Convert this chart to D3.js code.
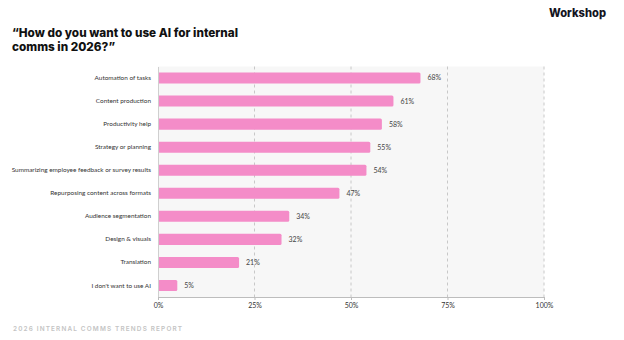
<!DOCTYPE html>
<html>
<head>
<meta charset="utf-8">
<script src="https://cdn.jsdelivr.net/npm/d3@7/dist/d3.min.js"></script>
<style>
  html, body { margin: 0; padding: 0; background: #fff; }
  svg { display: block; }
</style>
</head>
<body>
<svg id="chart" width="624" height="340"></svg>
<script>
// Survey answers, in display order
const categories = [
  "Automation of tasks",
  "Content production",
  "Productivity help",
  "Strategy or planning",
  "Summarizing employee feedback or survey results",
  "Repurposing content across formats",
  "Audience segmentation",
  "Design & visuals",
  "Translation",
  "I don't want to use AI"
];
const values = [68, 61, 58, 55, 54, 47, 34, 32, 21, 5];
const xTicks = [0, 25, 50, 75, 100];
const titleLines = ["\u201CHow do you want to use AI for internal", "comms in 2026?\u201D"];

const svg = d3.select("#chart");
const font = "Lato, 'Open Sans', sans-serif";
const headFont = "Inter, 'Open Sans', sans-serif";

const plot = { left: 158, right: 544, top: 66.5, bottom: 297 };

const x = d3.scaleLinear().domain([0, 100]).range([plot.left, plot.right]);
const y = d3.scaleBand().domain(categories).range([plot.top, plot.bottom]).paddingInner(0.52).paddingOuter(0.26);

// Scale a text's font size so its run spans the given width
function fitWidth(sel, width) {
  const node = sel.node();
  const size = parseFloat(sel.attr("font-size"));
  const w = node.getComputedTextLength();
  if (w > 0) sel.attr("font-size", (size * width / w).toFixed(2));
  return sel;
}

// Title
const title = svg.append("g");
titleLines.forEach((line, i) => {
  const t = title.append("text")
    .attr("x", 12).attr("y", 37 + i * 13.5)
    .attr("font-family", headFont).attr("font-weight", 800).attr("font-size", 11)
    .attr("fill", "#111")
    .text(line);
  if (i === 0) fitWidth(t, 226);
});
const titleSize = title.select("text").attr("font-size");
title.selectAll("text").attr("font-size", titleSize);

// Brand mark
fitWidth(svg.append("text")
  .attr("x", 549).attr("y", 17)
  .attr("font-family", headFont).attr("font-weight", 800).attr("font-size", 11)
  .attr("fill", "#14141e")
  .text("Workshop"), 57);

// Plot background
svg.append("rect")
  .attr("x", plot.left).attr("y", plot.top)
  .attr("width", plot.right - plot.left).attr("height", plot.bottom - plot.top)
  .attr("fill", "#f7f7f7");

// Dashed gridlines
svg.append("g")
  .selectAll("line")
  .data(xTicks.filter(d => d > 0))
  .join("line")
  .attr("x1", d => x(d)).attr("x2", d => x(d))
  .attr("y1", plot.top).attr("y2", plot.bottom)
  .attr("stroke", "#c8c8c8").attr("stroke-width", 1)
  .attr("stroke-dasharray", "3,3");

// Bars
const rows = categories.map((c, i) => ({ c, v: values[i] }));
svg.append("g")
  .selectAll("path")
  .data(rows)
  .join("path")
  .attr("fill", "#f48cc8")
  .attr("d", d => {
    const x0 = x(0), x1 = x(d.v), y0 = y(d.c), h = y.bandwidth(), r = 1.5;
    return `M${x0},${y0}H${x1 - r}Q${x1},${y0} ${x1},${y0 + r}V${y0 + h - r}Q${x1},${y0 + h} ${x1 - r},${y0 + h}H${x0}Z`;
  });

// Value labels
svg.append("g")
  .selectAll("text")
  .data(rows)
  .join("text")
  .attr("x", d => x(d.v) + 7)
  .attr("y", d => y(d.c) + y.bandwidth() / 2)
  .attr("dy", "0.35em")
  .attr("font-family", font).attr("font-size", 7)
  .attr("fill", "#444")
  .text(d => d.v + "%");

// Category axis
const yAxis = svg.append("g")
  .attr("transform", `translate(${plot.left},0)`)
  .call(d3.axisLeft(y).tickSize(0).tickPadding(7));
yAxis.select(".domain").attr("stroke", "#cfcfcf");
yAxis.selectAll("text")
  .attr("font-family", font).attr("font-size", 6.4).attr("fill", "#333");

// Percentage axis
const xAxis = svg.append("g")
  .attr("transform", `translate(0,${plot.bottom})`)
  .call(d3.axisBottom(x).tickValues(xTicks).tickFormat(d => d + "%").tickSize(3).tickSizeOuter(0).tickPadding(3));
xAxis.select(".domain").attr("stroke", "#bdbdbd");
xAxis.selectAll(".tick line").attr("stroke", "#bdbdbd");
xAxis.selectAll("text")
  .attr("font-family", font).attr("font-size", 7).attr("fill", "#333");

// Footer, letter-spaced to span its run
const footer = svg.append("text")
  .attr("x", 13).attr("y", 331)
  .attr("font-family", headFont).attr("font-weight", 600).attr("font-size", 6.4)
  .attr("letter-spacing", 0)
  .attr("fill", "#c4c4c4")
  .text("2026 INTERNAL COMMS TRENDS REPORT");
{
  const txt = footer.text();
  const w0 = footer.node().getComputedTextLength();
  footer.attr("letter-spacing", ((169 - w0) / (txt.length - 1)).toFixed(2));
}
</script>
</body>
</html>
